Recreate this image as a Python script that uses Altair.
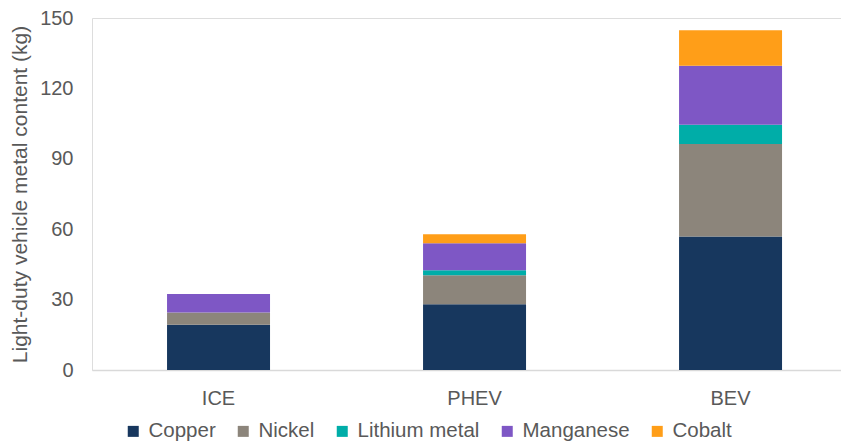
import altair as alt
import pandas as pd

vehicles = ["ICE", "PHEV", "BEV"]
metals = ["Copper", "Nickel", "Lithium metal", "Manganese", "Cobalt"]
colors = ["#17375E", "#8C857B", "#00ADA8", "#7E57C5", "#FF9E18"]

copper = [19.3, 28.0, 56.9]
nickel = [5.2, 12.4, 39.4]
lithium = [0.0, 2.1, 8.2]
manganese = [7.9, 11.5, 25.1]
cobalt = [0.0, 3.8, 15.2]

y_ticks = [0, 30, 60, 90, 120, 150]

series = [copper, nickel, lithium, manganese, cobalt]
rows = []
for mi, (m, vals) in enumerate(zip(metals, series)):
    for v, val in zip(vehicles, vals):
        rows.append({"vehicle": v, "metal": m, "value": val, "order": mi})
df = pd.DataFrame(rows)

FONT = "Liberation Sans"
GRAY = "#595959"

chart = (
    alt.Chart(df)
    .mark_bar()
    .encode(
        x=alt.X(
            "vehicle:N",
            sort=vehicles,
            title=None,
            scale=alt.Scale(paddingInner=0.5977, paddingOuter=0.2617, align=0.56),
            axis=alt.Axis(
                labelAngle=0,
                ticks=False,
                domainColor="#D9D9D9",
                domainWidth=1.5,
                labelFontSize=20,
                labelColor=GRAY,
                labelPadding=18,
                labelFont=FONT,
            ),
        ),
        y=alt.Y(
            "value:Q",
            stack="zero",
            title="Light-duty vehicle metal content (kg)",
            scale=alt.Scale(domain=[0, 150], nice=False),
            axis=alt.Axis(
                values=y_ticks,
                grid=False,
                domain=False,
                ticks=False,
                labelFontSize=20,
                labelColor=GRAY,
                labelPadding=19,
                labelFont=FONT,
                titleFont=FONT,
                titleFontSize=21,
                titleFontWeight="normal",
                titleColor=GRAY,
                titleX=-72,
                titleY=176,
                titleAngle=270,
                titleAlign="center",
                titleBaseline="middle",
            ),
        ),
        color=alt.Color(
            "metal:N",
            sort=metals,
            scale=alt.Scale(domain=metals, range=colors),
            legend=alt.Legend(
                title=None,
                orient="none",
                direction="horizontal",
                legendX=31,
                legendY=403,
                symbolType="square",
                symbolSize=121,
                symbolStrokeWidth=0,
                labelFontSize=20.5,
                labelColor=GRAY,
                labelFont=FONT,
                labelOffset=5,
                columnPadding=17,
                padding=0,
            ),
        ),
        order=alt.Order("order:Q", sort="ascending"),
    )
    .properties(
        width=749,
        height=352,
        autosize=alt.AutoSizeParams(type="none"),
        padding={"left": 84, "top": 10, "right": 0, "bottom": 71},
    )
    .configure_view(strokeWidth=0)
    .configure(font=FONT)
)

chart.save("out.html", embed_options={"renderer": "svg", "actions": False})
